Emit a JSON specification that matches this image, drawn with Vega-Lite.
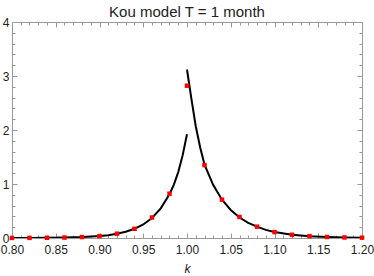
{
  "$schema": "https://vega.github.io/schema/vega-lite/v6.json",
  "autosize": {"type": "none"},
  "padding": {"left": 12, "top": 22, "right": 12, "bottom": 38},
  "width": 350,
  "height": 216,
  "title": {"text": "Kou model T = 1 month", "font": "Liberation Sans", "fontSize": 15, "fontWeight": "normal", "color": "#222", "offset": -4},
  "config": {
    "view": {"stroke": "#999", "strokeWidth": 1},
    "axis": {"grid": false, "domain": false, "labelFont": "Liberation Sans", "labelFontSize": 12, "labelColor": "#222", "tickColor": "#999", "titleFont": "Liberation Sans"}
  },
  "datasets": {
    "curve": [
      {"k": 0.80, "v": 0.001, "branch": "L"},
      {"k": 0.82, "v": 0.002, "branch": "L"},
      {"k": 0.84, "v": 0.004, "branch": "L"},
      {"k": 0.86, "v": 0.008, "branch": "L"},
      {"k": 0.88, "v": 0.017, "branch": "L"},
      {"k": 0.90, "v": 0.035, "branch": "L"},
      {"k": 0.91, "v": 0.052, "branch": "L"},
      {"k": 0.92, "v": 0.078, "branch": "L"},
      {"k": 0.93, "v": 0.115, "branch": "L"},
      {"k": 0.94, "v": 0.17, "branch": "L"},
      {"k": 0.95, "v": 0.25, "branch": "L"},
      {"k": 0.96, "v": 0.37, "branch": "L"},
      {"k": 0.97, "v": 0.55, "branch": "L"},
      {"k": 0.98, "v": 0.81, "branch": "L"},
      {"k": 0.985, "v": 0.99, "branch": "L"},
      {"k": 0.99, "v": 1.22, "branch": "L"},
      {"k": 0.995, "v": 1.53, "branch": "L"},
      {"k": 1.0, "v": 1.92, "branch": "L"},
      {"k": 1.0, "v": 3.12, "branch": "R"},
      {"k": 1.005, "v": 2.58, "branch": "R"},
      {"k": 1.01, "v": 2.07, "branch": "R"},
      {"k": 1.015, "v": 1.68, "branch": "R"},
      {"k": 1.02, "v": 1.36, "branch": "R"},
      {"k": 1.03, "v": 0.98, "branch": "R"},
      {"k": 1.04, "v": 0.71, "branch": "R"},
      {"k": 1.05, "v": 0.52, "branch": "R"},
      {"k": 1.06, "v": 0.38, "branch": "R"},
      {"k": 1.07, "v": 0.28, "branch": "R"},
      {"k": 1.08, "v": 0.21, "branch": "R"},
      {"k": 1.09, "v": 0.15, "branch": "R"},
      {"k": 1.10, "v": 0.11, "branch": "R"},
      {"k": 1.12, "v": 0.06, "branch": "R"},
      {"k": 1.14, "v": 0.034, "branch": "R"},
      {"k": 1.16, "v": 0.019, "branch": "R"},
      {"k": 1.18, "v": 0.01, "branch": "R"},
      {"k": 1.20, "v": 0.006, "branch": "R"}
    ],
    "pts": [
      {"k": 0.80, "v": 0.001}, {"k": 0.82, "v": 0.002}, {"k": 0.84, "v": 0.004},
      {"k": 0.86, "v": 0.008}, {"k": 0.88, "v": 0.017}, {"k": 0.90, "v": 0.035},
      {"k": 0.92, "v": 0.08}, {"k": 0.94, "v": 0.17}, {"k": 0.96, "v": 0.38},
      {"k": 0.98, "v": 0.82}, {"k": 1.00, "v": 2.82}, {"k": 1.02, "v": 1.35},
      {"k": 1.04, "v": 0.71}, {"k": 1.06, "v": 0.39}, {"k": 1.08, "v": 0.21},
      {"k": 1.10, "v": 0.11}, {"k": 1.12, "v": 0.06}, {"k": 1.14, "v": 0.034},
      {"k": 1.16, "v": 0.019}, {"k": 1.18, "v": 0.01}, {"k": 1.20, "v": 0.006}
    ]
  },
  "layer": [
    {
      "data": {"name": "curve"},
      "mark": {"type": "line", "color": "black", "strokeWidth": 2, "clip": true},
      "encoding": {
        "x": {"field": "k", "type": "quantitative", "scale": {"domain": [0.8, 1.2], "nice": false, "zero": false},
          "axis": {"orient": "bottom", "title": "k", "titleFontStyle": "italic", "titleFontWeight": "normal", "titleFontSize": 12, "titleColor": "#222", "titlePadding": 6,
            "values": [0.8,0.81,0.82,0.83,0.84,0.85,0.86,0.87,0.88,0.89,0.9,0.91,0.92,0.93,0.94,0.95,0.96,0.97,0.98,0.99,1.0,1.01,1.02,1.03,1.04,1.05,1.06,1.07,1.08,1.09,1.1,1.11,1.12,1.13,1.14,1.15,1.16,1.17,1.18,1.19,1.2],
            "labelExpr": "abs(datum.value*20-round(datum.value*20))<0.001 ? format(datum.value,'.2f') : ''",
            "tickSize": {"condition": {"test": "abs(datum.value*20-round(datum.value*20))<0.001", "value": -5}, "value": -3},
            "labelPadding": 11, "labelFlush": false, "labelOverlap": false}},
        "y": {"field": "v", "type": "quantitative", "scale": {"domain": [0, 4], "nice": false},
          "axis": {"orient": "left", "title": null,
            "values": [0,0.2,0.4,0.6,0.8,1,1.2,1.4,1.6,1.8,2,2.2,2.4,2.6,2.8,3,3.2,3.4,3.6,3.8,4],
            "labelExpr": "abs(datum.value-round(datum.value))<0.001 ? format(datum.value,'d') : ''",
            "tickSize": {"condition": {"test": "abs(datum.value-round(datum.value))<0.001", "value": -5}, "value": -3},
            "labelPadding": 8, "labelFlush": false, "labelOverlap": false}},
        "detail": {"field": "branch"}
      }
    },
    {
      "data": {"name": "pts"},
      "mark": {"type": "point", "shape": "square", "filled": true, "color": "red", "size": 20, "opacity": 1},
      "encoding": {
        "x": {"field": "k", "type": "quantitative",
          "axis": {"orient": "top", "title": null, "labels": false,
            "values": [0.8,0.81,0.82,0.83,0.84,0.85,0.86,0.87,0.88,0.89,0.9,0.91,0.92,0.93,0.94,0.95,0.96,0.97,0.98,0.99,1.0,1.01,1.02,1.03,1.04,1.05,1.06,1.07,1.08,1.09,1.1,1.11,1.12,1.13,1.14,1.15,1.16,1.17,1.18,1.19,1.2],
            "tickSize": {"condition": {"test": "abs(datum.value*20-round(datum.value*20))<0.001", "value": -5}, "value": -3}}},
        "y": {"field": "v", "type": "quantitative",
          "axis": {"orient": "right", "title": null, "labels": false,
            "values": [0,0.2,0.4,0.6,0.8,1,1.2,1.4,1.6,1.8,2,2.2,2.4,2.6,2.8,3,3.2,3.4,3.6,3.8,4],
            "tickSize": {"condition": {"test": "abs(datum.value-round(datum.value))<0.001", "value": -5}, "value": -3}}}
      }
    }
  ],
  "resolve": {"axis": {"x": "independent", "y": "independent"}}
}
